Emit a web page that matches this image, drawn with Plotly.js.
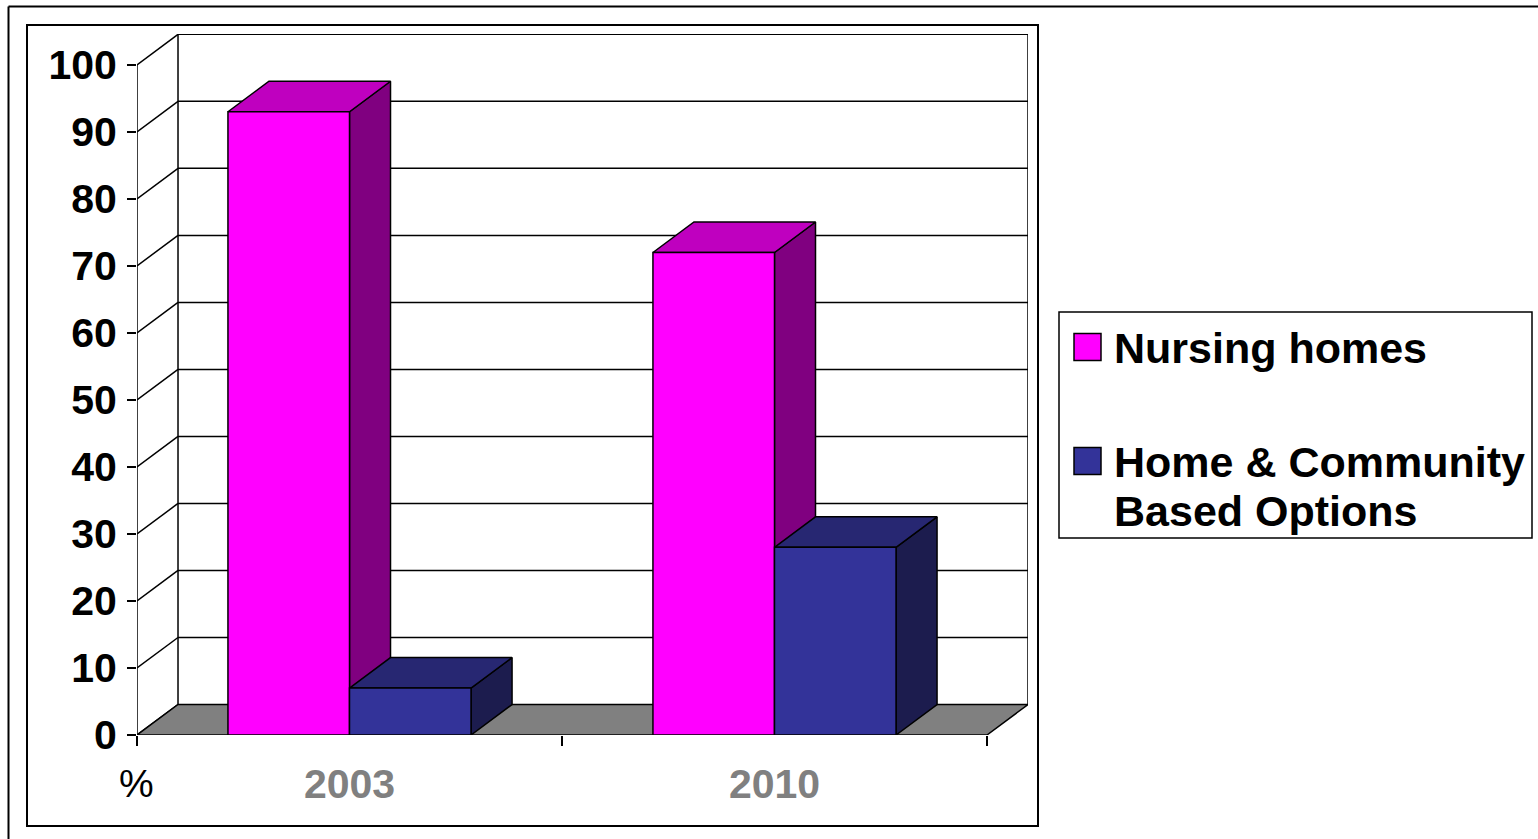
<!DOCTYPE html>
<html><head><meta charset="utf-8">
<script src="https://cdn.plot.ly/plotly-3.0.1.min.js"></script>
<style>html,body{margin:0;padding:0;background:#fff;overflow:hidden}</style>
</head><body>
<div id="chart" style="width:1538px;height:839px"></div>
<script>
// ---------- data ----------
const categories = ['2003', '2010'];
const nursingHomes = [93, 72];
const homeCommunity = [7, 28];
const seriesNames = ['Nursing homes', 'Home & Community Based Options'];
const legendLines = [['Nursing homes'], ['Home & Community', 'Based Options']];
const yTickValues = [0, 10, 20, 30, 40, 50, 60, 70, 80, 90, 100];
const yAxisUnit = '%';

// ---------- styles ----------
const FONT = 'Liberation Sans, Arial, Helvetica, sans-serif';
const faceColors = [
  {front: '#FF00FF', top: '#BF00BF', side: '#800080'},
  {front: '#333399', top: '#272772', side: '#1C1C4E'}
];
const W = 1538, H = 839;
const fx = p => p / W, fy = p => 1 - p / H;

// 3-D projection parameters (in axis units)
const DX = 0.0965, DY = 4.55, BARW = 0.286;
const X0 = -0.5, X1 = categories.length - 0.5;
const XR = [X0, X1 + DX];
const YR = [0, 104.6];
const EDGE = {color: '#000', width: 1.5};

function poly(xs, ys, fill) {
  return {type: 'scatter', mode: 'lines', x: xs.concat([xs[0]]), y: ys.concat([ys[0]]),
    fill: 'toself', fillcolor: fill, line: EDGE, hoverinfo: 'skip', showlegend: false,
    xaxis: 'x', yaxis: 'y'};
}

const traces = [];
// back wall gridlines + walls
(function () {
  const gx = [], gy = [];
  yTickValues.forEach(v => {
    if (v > 0) { gx.push(X0 + DX, X1 + DX, null); gy.push(v + DY, v + DY, null); }
    gx.push(X0, X0 + DX, null); gy.push(v, v + DY, null);
  });
  const vmax = yTickValues[yTickValues.length - 1];
  gx.push(X0 + DX, X0 + DX, null, X1 + DX, X1 + DX, null, X0, X0, null);
  gy.push(DY, vmax + DY, null, DY, vmax + DY, null, 0, vmax, null);
  traces.push({type: 'scatter', mode: 'lines', x: gx, y: gy, line: EDGE,
    hoverinfo: 'skip', showlegend: false, connectgaps: false});
})();
// floor
traces.push(poly([X0, X1, X1 + DX, X0 + DX], [0, 0, DY, DY], '#808080'));

// bars
const seriesValues = [nursingHomes, homeCommunity];
categories.forEach((cat, i) => {
  seriesValues.forEach((vals, s) => {
    const v = vals[i];
    const c = i + (s - (seriesValues.length - 1) / 2) * BARW;
    const l = c - BARW / 2, r = c + BARW / 2;
    const col = faceColors[s];
    traces.push(poly([r, r, r + DX, r + DX], [0, v, v + DY, DY], col.side));
    traces.push(poly([l, r, r + DX, l + DX], [v, v, v + DY, v + DY], col.top));
    const f = poly([l, r, r, l], [0, 0, v, v], col.front);
    f.name = seriesNames[s];
    f.hoverinfo = 'name+y';
    traces.push(f);
  });
});

// legend swatches (in a small helper subplot)
const legendBox = {x0: 1059, x1: 1532, y0: 312, y1: 538};
const swatchY = [347, 461];
seriesNames.forEach((n, s) => {
  traces.push({type: 'scatter', mode: 'markers', x: [(1087.5 - legendBox.x0) / (legendBox.x1 - legendBox.x0)],
    y: [(legendBox.y1 - swatchY[s]) / (legendBox.y1 - legendBox.y0)],
    marker: {symbol: 'square', size: 27, color: faceColors[s].front, line: {color: '#000', width: 1.5}},
    xaxis: 'x3', yaxis: 'y3', hoverinfo: 'skip', showlegend: false});
});

const annotations = [
  {text: yAxisUnit, xref: 'paper', yref: 'paper', x: fx(136.5), y: fy(783), xanchor: 'center', yanchor: 'middle',
   showarrow: false, font: {family: FONT, size: 39, color: '#000'}}
];
const legendTextY = [[348], [462.5, 511]];
legendLines.forEach((lines, s) => {
  lines.forEach((t, k) => {
    annotations.push({text: t, xref: 'paper', yref: 'paper', x: fx(1112), y: fy(legendTextY[s][k]),
      xanchor: 'left', yanchor: 'middle', showarrow: false,
      font: {family: FONT, size: 43, color: '#000', weight: 'bold'}});
  });
});

const layout = {
  width: W, height: H, autosize: false,
  margin: {l: 0, r: 0, t: 0, b: 0, pad: 0},
  paper_bgcolor: '#fff', plot_bgcolor: 'rgba(0,0,0,0)',
  showlegend: false,
  font: {family: FONT},
  xaxis: {domain: [fx(137), fx(1028)], range: XR, anchor: 'y', showgrid: false, zeroline: false, showline: false,
    tickmode: 'array', tickvals: categories.map((c, i) => i), ticktext: categories, ticks: '',
    ticklabelstandoff: 21,
    tickfont: {family: FONT, size: 41, color: '#808080', weight: 'bold'},
    minor: {tickmode: 'array', tickvals: categories.map((c, i) => i - 0.5).concat([X1]),
      ticks: 'outside', ticklen: 10, tickwidth: 1.5, tickcolor: '#000', showgrid: false},
    fixedrange: true},
  yaxis: {domain: [fy(735), fy(34)], range: YR, anchor: 'x', showgrid: false, zeroline: false, showline: false,
    tickmode: 'array', tickvals: yTickValues, ticks: 'outside', ticklen: 9, tickwidth: 1.5, tickcolor: '#000',
    ticklabelstandoff: 2,
    tickfont: {family: FONT, size: 41, color: '#000', weight: 'bold'}, fixedrange: true},
  xaxis3: {domain: [fx(legendBox.x0), fx(legendBox.x1)], range: [0, 1], anchor: 'y3', visible: false, fixedrange: true},
  yaxis3: {domain: [fy(legendBox.y1), fy(legendBox.y0)], range: [0, 1], anchor: 'x3', visible: false, fixedrange: true},
  shapes: [
    {type: 'line', xref: 'paper', yref: 'paper', x0: fx(8.5), x1: 1.01, y0: fy(6.5), y1: fy(6.5), line: {color: '#000', width: 2}},
    {type: 'line', xref: 'paper', yref: 'paper', x0: fx(8.5), x1: fx(8.5), y0: fy(6.5), y1: -0.01, line: {color: '#000', width: 2}},
    {type: 'rect', xref: 'paper', yref: 'paper', x0: fx(27), x1: fx(1038), y0: fy(826), y1: fy(25), line: {color: '#000', width: 2}},
    {type: 'rect', xref: 'paper', yref: 'paper', x0: fx(legendBox.x0), x1: fx(legendBox.x1), y0: fy(legendBox.y1), y1: fy(legendBox.y0), line: {color: '#000', width: 1.5}}
  ],
  annotations: annotations
};

Plotly.newPlot('chart', traces, layout, {displayModeBar: false, staticPlot: true});
</script>
</body></html>
